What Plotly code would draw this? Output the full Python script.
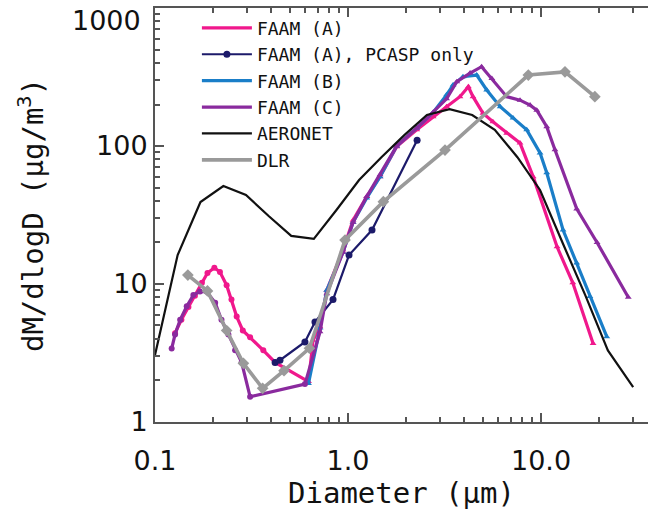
import plotly.graph_objects as go

# ---------------- data ----------------
faam_a_d = [0.127, 0.137, 0.149, 0.161, 0.175, 0.187, 0.203, 0.217, 0.235, 0.249, 0.265, 0.285, 0.311, 0.364, 0.419,
            0.624, 0.659, 0.716, 0.776, 0.942, 1.062, 1.25, 1.465, 1.787, 2.27, 2.76, 3.24, 3.80, 4.20, 4.44, 5.00,
            5.63, 6.64, 7.78, 9.10, 12.1, 14.6, 18.6]
faam_a_v = [4.4, 5.5, 6.8, 8.2, 10.2, 12.0, 13.1, 12.2, 9.8, 7.7, 5.8, 4.6, 4.1, 3.3, 2.7,
            1.96, 3.9, 4.9, 9.0, 17.6, 29, 43, 60, 99, 131, 163, 193, 228, 269, 228, 173,
            150, 124, 105, 60, 18.6, 10.2, 3.7]
faam_a_sym = ["circle"] * 15 + ["triangle-up"] * 23

pcasp_d = [0.419, 0.444, 0.598, 0.674, 0.836, 1.012, 1.331, 2.28]
pcasp_v = [2.7, 2.8, 3.8, 5.3, 7.7, 16.2, 24.6, 110]

faam_b_d = [0.624, 0.716, 0.776, 0.942, 1.062, 1.25, 1.465, 1.787, 2.27, 2.76, 3.24, 3.50, 3.94, 4.64, 5.23,
            6.14, 7.16, 8.43, 9.88, 10.7, 13.0, 15.3, 17.9, 21.9]
faam_b_v = [1.9, 4.8, 9.0, 17.0, 28, 42, 60, 100, 135, 175, 235, 277, 318, 327, 255,
            193, 160, 131, 89, 64, 24.6, 14.2, 8.1, 4.15]

faam_c_d = [0.122, 0.127, 0.135, 0.146, 0.158, 0.171, 0.185, 0.205, 0.221, 0.240, 0.260, 0.281, 0.311, 0.598,
            0.716, 0.776, 0.942, 1.062, 1.25, 1.465, 1.787, 2.27, 2.76, 3.24, 3.66, 4.29, 4.92, 5.56, 6.64,
            7.78, 8.77, 9.50, 10.7, 11.8, 15.3, 19.5, 28.3]
faam_c_v = [3.4, 4.3, 5.5, 6.9, 8.3, 8.8, 8.8, 7.3, 5.5, 4.3, 3.3, 2.7, 1.52, 1.88,
            4.5, 8.5, 17, 28, 43, 62, 100, 135, 175, 220, 293, 338, 376, 309, 228,
            215, 198, 182, 138, 94, 35, 20, 8.0]
faam_c_sym = ["circle"] * 14 + ["triangle-up"] * 23

aeronet_d = [0.100, 0.131, 0.172, 0.226, 0.296, 0.388, 0.508, 0.665, 0.871, 1.141, 1.494, 1.957, 2.563, 3.357,
             4.397, 5.758, 7.542, 9.878, 12.94, 16.94, 22.19, 30.0]
aeronet_v = [3.06, 16.2, 39.3, 51.3, 44.2, 31.1, 22.3, 21.2, 34.4, 56.7, 83.2, 120, 168, 185,
             168, 131, 83, 48, 19.8, 8.3, 3.3, 1.79]

dlr_d = [0.148, 0.187, 0.235, 0.287, 0.361, 0.466, 0.631, 0.965, 1.524, 3.18, 8.59, 13.3, 19.0]
dlr_v = [11.6, 8.9, 4.6, 2.66, 1.75, 2.35, 3.42, 20.8, 39.5, 93.5, 327, 345, 228]

series_names = ["FAAM (A)", "FAAM (A), PCASP only", "FAAM (B)", "FAAM (C)", "AERONET", "DLR"]

x_tickvals = [0.1, 1.0, 10.0]
x_ticktext = ["0.1", "1.0", "10.0"]
y_tickvals = [1, 10, 100, 1000]
y_ticktext = ["1", "10", "100", "1000"]

# ---------------- styles ----------------
C_PINK = "#f0188c"
C_NAVY = "#1c1a6a"
C_BLUE = "#1a7ec8"
C_PURP = "#8a2a9e"
C_BLACK = "#111111"
C_GRAY = "#9a9a9a"

fig = go.Figure()


def add_series(name, xs, ys, color, lw, sym, msize, legend_markers=False):
    if legend_markers:
        fig.add_trace(go.Scatter(x=xs, y=ys, name=name, mode="lines+markers",
                                 line=dict(color=color, width=lw),
                                 marker=dict(symbol=sym, size=msize, color=color)))
        return
    fig.add_trace(go.Scatter(x=xs, y=ys, name=name, mode="lines", legendgroup=name,
                             line=dict(color=color, width=lw)))
    if sym is not None:
        fig.add_trace(go.Scatter(x=xs, y=ys, name=name, mode="markers", legendgroup=name,
                                 showlegend=False,
                                 marker=dict(symbol=sym, size=msize, color=color)))


add_series(series_names[0], faam_a_d, faam_a_v, C_PINK, 3.2, faam_a_sym, 6)
add_series(series_names[1], pcasp_d, pcasp_v, C_NAVY, 2.2, "circle", 7, legend_markers=True)
add_series(series_names[2], faam_b_d, faam_b_v, C_BLUE, 3.2, "triangle-up", 6)
add_series(series_names[3], faam_c_d, faam_c_v, C_PURP, 3.2, faam_c_sym, 6)
add_series(series_names[4], aeronet_d, aeronet_v, C_BLACK, 2.2, None, 0)
add_series(series_names[5], dlr_d, dlr_v, C_GRAY, 3.6, "diamond", 9)

minor_x = [k * 10 ** e for e in (-1, 0, 1) for k in range(2, 10)]
minor_y = [k * 10 ** e for e in (0, 1, 2) for k in range(2, 10)]

AX = "#555555"
FONT = "DejaVu Sans"
TFONT = "DejaVu Sans Mono"

# the top label sits just inside the figure, drawn as an annotation tied to the y scale
y_axis_text = [t if v != y_tickvals[-1] else "" for v, t in zip(y_tickvals, y_ticktext)]

fig.update_layout(
    width=648, height=510,
    margin=dict(l=155, r=0, t=8, b=88),
    paper_bgcolor="white", plot_bgcolor="white",
    showlegend=True,
    legend=dict(x=0.085, y=0.996, xanchor="left", yanchor="top",
                bgcolor="rgba(0,0,0,0)", borderwidth=0,
                font=dict(family="DejaVu Sans Mono", size=18, color="#111"),
                itemwidth=50, tracegroupgap=0),
    font=dict(family=FONT, color="#111"),
    annotations=[dict(text=y_ticktext[-1], x=0, xref="paper", xanchor="right", xshift=-12,
                      y=3, yref="y", yanchor="middle", yshift=-12, showarrow=False,
                      font=dict(family=FONT, size=27, color="#111"))],
)

fig.update_xaxes(
    type="log", range=[-1, 1.554],
    tickmode="array", tickvals=x_tickvals, ticktext=x_ticktext,
    ticks="inside", ticklen=9, tickwidth=1.5, tickcolor=AX,
    minor=dict(tickmode="array", tickvals=minor_x, ticks="inside", ticklen=5,
               tickwidth=1.5, tickcolor=AX, showgrid=False),
    showline=True, linecolor=AX, linewidth=2, mirror="allticks",
    showgrid=False, zeroline=False,
    ticklabelstandoff=14,
    tickfont=dict(family=FONT, size=27, color="#111"),
    title=dict(text="Diameter (μm)", font=dict(family=TFONT, size=29, color="#111"), standoff=0),
)
fig.update_yaxes(
    type="log", range=[-0.0008, 3.0008],
    tickmode="array", tickvals=y_tickvals, ticktext=y_axis_text,
    ticks="inside", ticklen=9, tickwidth=1.5, tickcolor=AX,
    minor=dict(tickmode="array", tickvals=minor_y, ticks="inside", ticklen=5,
               tickwidth=1.5, tickcolor=AX, showgrid=False),
    showline=True, linecolor=AX, linewidth=2, mirror=False,
    showgrid=False, zeroline=False,
    tickfont=dict(family=FONT, size=27, color="#111"),
    title=dict(text="dM/dlogD (μg/m<sup>3</sup>)", font=dict(family=TFONT, size=29, color="#111"), standoff=44),
)

fig.write_html("out.html")
